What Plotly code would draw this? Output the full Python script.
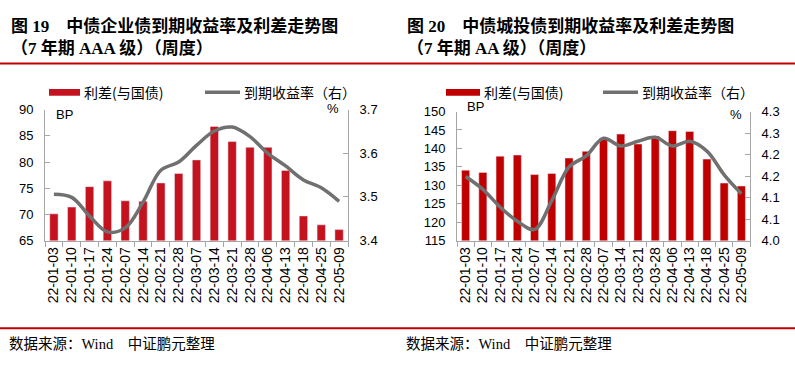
import plotly.graph_objects as go

dates = ["22-01-03", "22-01-10", "22-01-17", "22-01-24", "22-02-07", "22-02-14",
         "22-02-21", "22-02-28", "22-03-07", "22-03-14", "22-03-21", "22-03-28",
         "22-04-06", "22-04-13", "22-04-18", "22-04-25", "22-05-09"]

# Figure 19: 7Y AAA corporate bonds
spread_aaa = [70.1, 71.4, 75.3, 76.4, 72.6, 72.5, 76.0, 77.8, 80.4, 86.8, 83.9, 82.8,
              82.8, 78.4, 69.7, 68.0, 67.1]
yield_aaa = [3.506, 3.499, 3.456, 3.420, 3.429, 3.488, 3.561, 3.580, 3.618, 3.651,
             3.660, 3.638, 3.600, 3.571, 3.539, 3.521, 3.490]

# Figure 20: 7Y AA urban investment bonds
spread_aa = [134.1, 133.5, 137.9, 138.2, 132.9, 133.2, 137.4, 139.2, 142.8, 143.9,
             141.2, 143.4, 144.8, 144.6, 137.1, 130.6, 129.8]
yield_aa = [4.149, 4.119, 4.078, 4.045, 4.026, 4.093, 4.171, 4.197, 4.238, 4.220,
            4.231, 4.240, 4.220, 4.231, 4.208, 4.153, 4.109]

left_ticks_1 = [65, 70, 75, 80, 85, 90]
right_ticks_1 = [3.4, 3.5, 3.6, 3.7]
left_ticks_2 = [115, 120, 125, 130, 135, 140, 145, 150]
right_ticks_2 = [4.0, 4.05, 4.1, 4.15, 4.2, 4.25, 4.3]
right_text_2 = ["4.0", "4.1", "4.1", "4.2", "4.2", "4.3", "4.3"]

W, H = 795, 368
RED1 = "#C5121F"
RED2 = "#C00000"
GREY = "#707070"
AX = "#A6A6A6"
TICKFONT = dict(family="Liberation Sans, Arial, sans-serif", size=13, color="#000000")
XTICKFONT = dict(family="Liberation Sans, Arial, sans-serif", size=14, color="#000000")
CJK = "Noto Sans CJK SC"

def px(x):
    return x / W

def py(y):
    return 1 - y / H

fig = go.Figure()
fig.add_trace(go.Bar(x=dates, y=spread_aaa, name="利差(与国债)", marker_color=RED1,
                     width=0.47, xaxis="x", yaxis="y", showlegend=False))
fig.add_trace(go.Scatter(x=dates, y=yield_aaa, name="到期收益率（右）", mode="lines",
                         line=dict(color=GREY, width=3.5, shape="spline", smoothing=1.0),
                         xaxis="x", yaxis="y2", showlegend=False))
fig.add_trace(go.Bar(x=dates, y=spread_aa, name="利差(与国债)", marker_color=RED2,
                     width=0.47, xaxis="x2", yaxis="y3", showlegend=False))
fig.add_trace(go.Scatter(x=dates, y=yield_aa, name="到期收益率（右）", mode="lines",
                         line=dict(color=GREY, width=3.5, shape="spline", smoothing=1.0),
                         xaxis="x2", yaxis="y4", showlegend=False))

xcommon = dict(type="category", range=[-0.5, 16.5], showline=True, linecolor=AX, linewidth=1,
               ticks="outside", tickson="boundaries", ticklen=5, tickcolor=AX,
               tickangle=-90, tickfont=XTICKFONT, showgrid=False, zeroline=False, fixedrange=True)
ycommon = dict(showline=True, linecolor=AX, linewidth=1, ticks="inside", ticklen=5,
               tickcolor=AX, tickfont=TICKFONT, showgrid=False, zeroline=False, fixedrange=True,
               ticklabelstandoff=8)

dom1 = [px(45), px(348)]
dom2 = [px(457), px(750)]
ydom1 = [py(243.5), py(107)]
ydom2 = [py(243.5), py(109)]

fig.update_layout(
    width=W, height=H, margin=dict(l=0, r=0, t=0, b=0),
    paper_bgcolor="white", plot_bgcolor="white", showlegend=False,
    xaxis=dict(domain=dom1, anchor="y", **xcommon),
    yaxis=dict(domain=ydom1, anchor="x", range=[65, 90], tickvals=left_ticks_1, **ycommon),
    yaxis2=dict(domain=ydom1, anchor="x", overlaying="y", side="right", range=[3.4, 3.7],
                tickvals=right_ticks_1, tickformat=".1f", **ycommon),
    xaxis2=dict(domain=dom2, anchor="y3", **xcommon),
    yaxis3=dict(domain=ydom2, anchor="x2", range=[115, 150], tickvals=left_ticks_2, **ycommon),
    yaxis4=dict(domain=ydom2, anchor="x2", overlaying="y3", side="right", range=[4.0, 4.3],
                tickvals=right_ticks_2, ticktext=right_text_2, **ycommon),
    bargap=0.5,
)

shapes = []
annotations = []

# red rules
for yy in (59, 335):
    shapes.append(dict(type="line", xref="paper", yref="paper", x0=0, x1=1, y0=py(yy), y1=py(yy),
                       line=dict(color="#C00000", width=2)))

title_font = dict(family="Liberation Serif, " + CJK, size=17, color="#000000")
def title(x, line1, line2):
    annotations.append(dict(xref="paper", yref="paper", x=px(x), y=py(20), xanchor="left",
                            yanchor="middle", text="<b>" + line1 + "</b>", showarrow=False,
                            font=title_font))
    annotations.append(dict(xref="paper", yref="paper", x=px(x), y=py(43), xanchor="left",
                            yanchor="middle", text="<b>" + line2 + "</b>", showarrow=False,
                            font=title_font))

title(9, "图 19　中债企业债到期收益率及利差走势图", "（7 年期 AAA 级）（周度）")
title(405, "图 20　中债城投债到期收益率及利差走势图", "（7 年期 AA 级）（周度）")

foot_font = dict(family="Liberation Serif, " + CJK, size=14.5, color="#000000")
for x in (7, 404):
    annotations.append(dict(xref="paper", yref="paper", x=px(x), y=py(351), xanchor="left",
                            yanchor="middle", text="数据来源：Wind　中证鹏元整理", showarrow=False,
                            font=foot_font))

leg_font = dict(family=CJK, size=14, color="#000000")
def legend(rx0, rx1, lx0, lx1, red):
    yy = 89
    shapes.append(dict(type="rect", xref="paper", yref="paper", x0=px(rx0), x1=px(rx1),
                       y0=py(yy + 3.5), y1=py(yy - 3.5), fillcolor=red, line=dict(width=0)))
    annotations.append(dict(xref="paper", yref="paper", x=px(rx1 + 2), y=py(yy), xanchor="left",
                            yanchor="middle", text="利差(与国债)", showarrow=False, font=leg_font))
    shapes.append(dict(type="line", xref="paper", yref="paper", x0=px(lx0), x1=px(lx1),
                       y0=py(yy), y1=py(yy), line=dict(color=GREY, width=3.5)))
    annotations.append(dict(xref="paper", yref="paper", x=px(lx1 + 2), y=py(yy), xanchor="left",
                            yanchor="middle", text="到期收益率（右）", showarrow=False, font=leg_font))

legend(49, 80, 205, 240, RED1)
legend(446, 480, 603, 638, RED2)

unit_font = dict(family="Liberation Sans, Arial, sans-serif", size=13, color="#000000")
for x, y, t in ((54, 112, "BP"), (333, 106, "%"), (465, 104, "BP"), (736, 112, "%")):
    annotations.append(dict(xref="paper", yref="paper", x=px(x), y=py(y), xanchor="left" if t == "BP" else "center",
                            yanchor="middle", text=t, showarrow=False, font=unit_font))

fig.update_layout(shapes=shapes, annotations=annotations)
fig.write_html("out.html", config={"displayModeBar": False},
               post_script="document.body.style.margin='0';document.body.style.overflow='hidden';")
